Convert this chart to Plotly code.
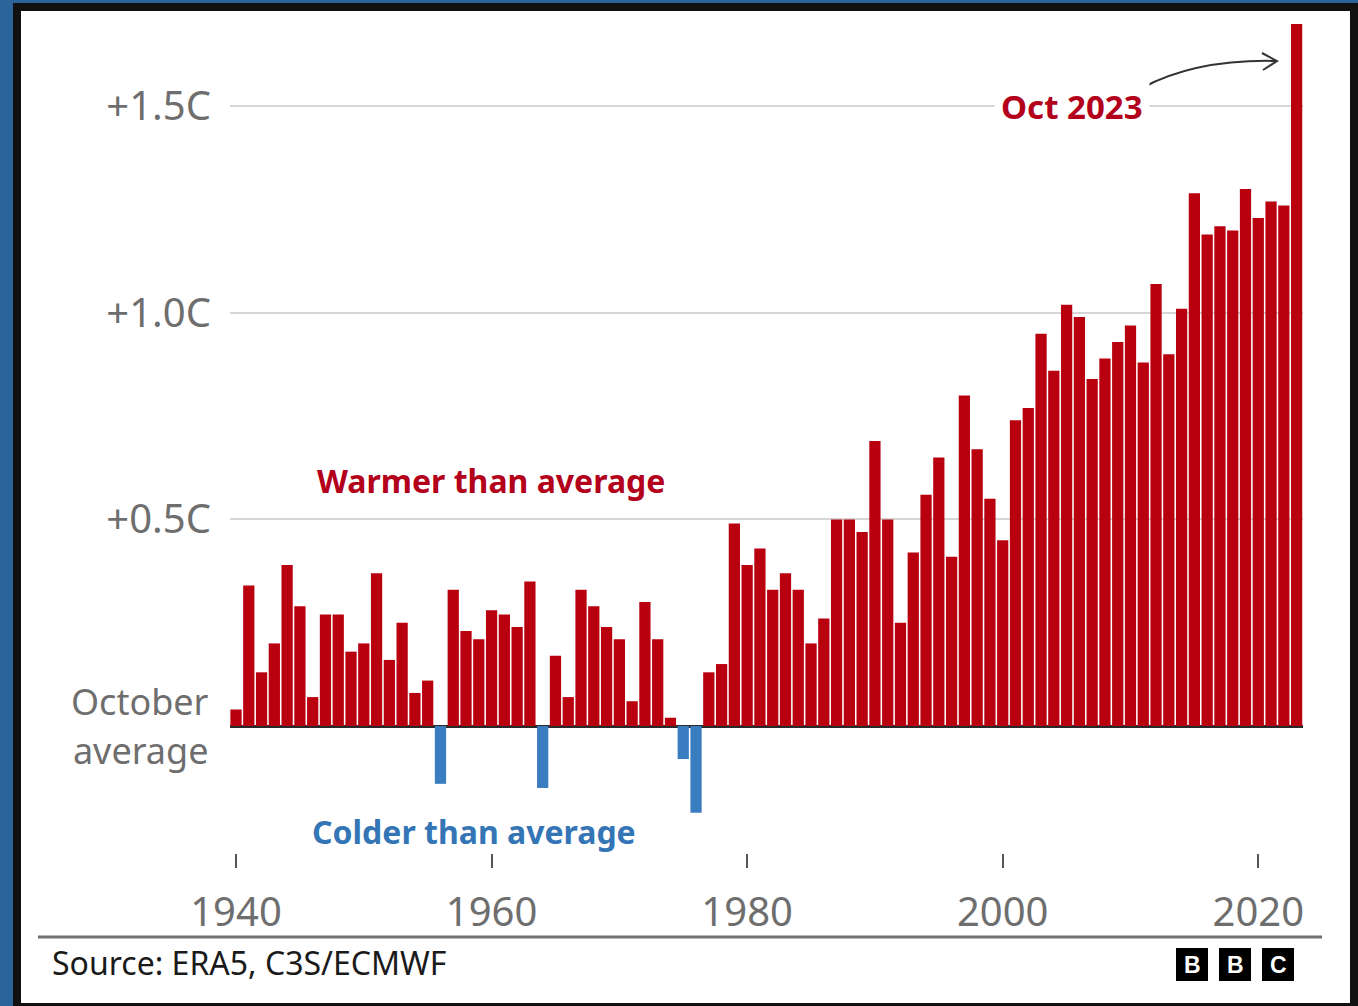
import plotly.graph_objects as go

# ---------------- data ----------------
years = list(range(1940, 2024))
anomaly = [
    0.04, 0.34, 0.13, 0.20, 0.39, 0.29, 0.07, 0.27, 0.27, 0.18,   # 1940-1949
    0.20, 0.37, 0.16, 0.25, 0.08, 0.11, -0.14, 0.33, 0.23, 0.21,  # 1950-1959
    0.28, 0.27, 0.24, 0.35, -0.15, 0.17, 0.07, 0.33, 0.29, 0.24,  # 1960-1969
    0.21, 0.06, 0.30, 0.21, 0.02, -0.08, -0.21, 0.13, 0.15, 0.49, # 1970-1979
    0.39, 0.43, 0.33, 0.37, 0.33, 0.20, 0.26, 0.50, 0.50, 0.47,   # 1980-1989
    0.69, 0.50, 0.25, 0.42, 0.56, 0.65, 0.41, 0.80, 0.67, 0.55,   # 1990-1999
    0.45, 0.74, 0.77, 0.95, 0.86, 1.02, 0.99, 0.84, 0.89, 0.93,   # 2000-2009
    0.97, 0.88, 1.07, 0.90, 1.01, 1.29, 1.19, 1.21, 1.20, 1.30,   # 2010-2019
    1.23, 1.27, 1.26, 1.70,                                       # 2020-2023
]
x_tick_vals = [1940, 1960, 1980, 2000, 2020]
x_tick_text = ["1940", "1960", "1980", "2000", "2020"]
y_tick_vals = [0.5, 1.0, 1.5]
y_tick_text = ["+0.5C", "+1.0C", "+1.5C"]
zero_label_lines = ["October", "average"]

# ---------------- style ----------------
RED = "#b8000f"
BLUE = "#3a7cc0"
RED_TEXT = "#b3001b"
BLUE_TEXT = "#3475b5"
GREY = "#6e6e6e"
FONT = "Noto Sans"

W, H = 1358, 1006
L, R, T, B = 230, 55, 20, 153
plot_w = W - L - R
plot_h = H - T - B
XR = [1939.53, 2023.5]
YR = [-0.3075, 1.7094]


def px(xpix):  # pixel -> paper x
    return (xpix - L) / plot_w


def py(ypix):  # pixel -> paper y
    return (H - B - ypix) / plot_h


def dx(xpix):  # pixel -> data x
    return XR[0] + (xpix - L) / plot_w * (XR[1] - XR[0])


def dy(ypix):  # pixel -> data y
    return YR[1] - (ypix - T) / plot_h * (YR[1] - YR[0])


colors = [RED if v >= 0 else BLUE for v in anomaly]

fig = go.Figure()
fig.add_trace(go.Bar(x=years, y=anomaly, marker=dict(color=colors, line=dict(width=0)),
                     hoverinfo="x+y"))

shapes = []
# frame: blue page, black border, white card
shapes.append(dict(type="rect", xref="paper", yref="paper", x0=px(13), x1=px(W + 5),
                   y0=py(H + 5), y1=py(3), fillcolor="#111111", line=dict(width=0), layer="below"))
shapes.append(dict(type="rect", xref="paper", yref="paper", x0=px(21), x1=px(1350),
                   y0=py(1003), y1=py(11), fillcolor="white", line=dict(width=0), layer="below"))
# footer separator
shapes.append(dict(type="line", xref="paper", yref="paper", x0=px(38), x1=px(1322),
                   y0=py(937), y1=py(937), line=dict(color="#707070", width=3)))
# BBC blocks
for x0 in (1176, 1219, 1262):
    shapes.append(dict(type="rect", xref="paper", yref="paper", x0=px(x0), x1=px(x0 + 32),
                       y0=py(981), y1=py(948), fillcolor="black", line=dict(width=0)))
# curved arrow to Oct 2023
p0 = (dx(1142), dy(88))
c = (dx(1196), dy(59))
p2 = (dx(1277), dy(61))
b1 = (dx(1262), dy(53))
b2 = (dx(1263), dy(70))
path = (f"M {p0[0]},{p0[1]} Q {c[0]},{c[1]} {p2[0]},{p2[1]} "
        f"M {b1[0]},{b1[1]} L {p2[0]},{p2[1]} L {b2[0]},{b2[1]}")
shapes.append(dict(type="path", xref="x", yref="y", path=path,
                   line=dict(color="#333333", width=2)))

annotations = [
    dict(x=dx(1072), y=1.5, xref="x", yref="y", text="<b>Oct 2023</b>", showarrow=False,
         font=dict(family=FONT, size=33, color=RED_TEXT), bgcolor="white", borderpad=6,
         xanchor="center", yanchor="middle"),
    dict(x=dx(491), y=dy(480), xref="x", yref="y", text="<b>Warmer than average</b>",
         showarrow=False, font=dict(family=FONT, size=32, color=RED_TEXT),
         xanchor="center", yanchor="middle"),
    dict(x=dx(474), y=dy(831), xref="x", yref="y", text="<b>Colder than average</b>",
         showarrow=False, font=dict(family=FONT, size=32, color=BLUE_TEXT),
         xanchor="center", yanchor="middle"),
    dict(x=px(50), y=py(962), xref="paper", yref="paper", text="Source: ERA5, C3S/ECMWF",
         showarrow=False, font=dict(family=FONT, size=32, color="#1a1a1a"),
         xanchor="left", yanchor="middle"),
]
# two-line label for the zero line (one text, line spacing set by the base size)
zero_label = "<br>".join(f"<span style='font-size:36px'>{t}</span>" for t in zero_label_lines)
annotations.append(dict(x=px(211), y=0, xref="paper", yref="y", text=zero_label,
                        showarrow=False, align="right",
                        font=dict(family=FONT, size=38, color=GREY),
                        xanchor="right", yanchor="middle"))
for x0, letter in ((1176, "B"), (1219, "B"), (1262, "C")):
    annotations.append(dict(x=px(x0 + 16), y=py(965), xref="paper", yref="paper",
                            text=f"<b>{letter}</b>", showarrow=False,
                            font=dict(family="Liberation Sans", size=23, color="white"),
                            xanchor="center", yanchor="middle"))

fig.update_layout(
    width=W, height=H,
    margin=dict(l=L, r=R, t=T, b=B, pad=0),
    paper_bgcolor="#2b6498",
    plot_bgcolor="white",
    showlegend=False,
    bargap=0.12,
    font=dict(family=FONT, color=GREY),
    shapes=shapes,
    annotations=annotations,
    xaxis=dict(range=XR, tickvals=x_tick_vals, ticktext=x_tick_text, ticks="outside",
               ticklen=14, tickwidth=2, tickcolor="#555555", showgrid=False, zeroline=False,
               showline=False, tickfont=dict(family=FONT, size=40, color=GREY),
               ticklabelstandoff=10, fixedrange=True),
    yaxis=dict(range=YR, tickvals=y_tick_vals, ticktext=y_tick_text, showgrid=True,
               gridcolor="#d6d6d6", gridwidth=1.5, zeroline=True, zerolinecolor="#2a2a2a",
               zerolinewidth=2.5, showline=False, ticks="",
               tickfont=dict(family=FONT, size=40, color=GREY),
               ticklabelstandoff=18, fixedrange=True),
)

fig.write_html("out.html", config={"displayModeBar": False},
               post_script="document.body.style.margin='0';document.body.style.overflow='hidden';")
